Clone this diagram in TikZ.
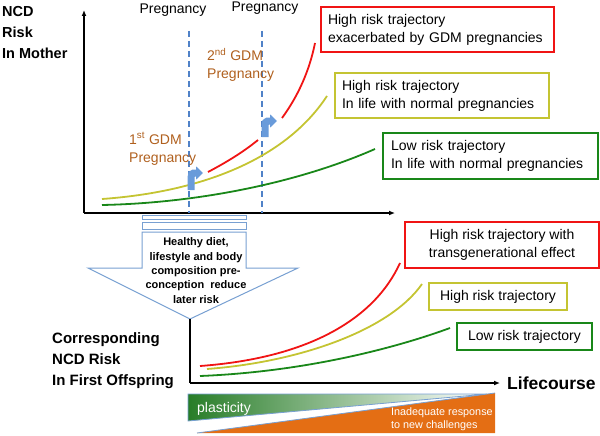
\documentclass[tikz,border=0pt]{standalone}
\usepackage{fontspec}
\setmainfont{Liberation Sans}
\usetikzlibrary{arrows.meta}
\definecolor{rd}{RGB}{240,20,20}
\definecolor{yl}{RGB}{196,196,50}
\definecolor{gn}{RGB}{25,135,25}
\definecolor{brn}{RGB}{176,96,30}
\definecolor{dblue}{RGB}{80,130,200}
\definecolor{abl}{RGB}{120,160,210}
\definecolor{bendblue}{RGB}{105,155,218}
\definecolor{org}{RGB}{228,110,20}
\definecolor{pgreen}{RGB}{40,125,40}
\begin{document}
\begin{tikzpicture}[x=1pt,y=-1pt,
  axisline/.style={line width=1.6, -{Latex[length=6pt,width=5pt]}},
  curve/.style={line width=1.8},
  preg/.style={dblue, line width=1.4, dash pattern=on 6pt off 4pt},
  riskbox/.style={draw=#1, line width=1.5, fill=white, inner xsep=7, inner ysep=0,
    font=\fontsize{14}{18}\selectfont},
  bendarrow/.style={bendblue, line width=7, -{Triangle[length=7pt,width=13pt]}},
  lbl/.style={inner sep=0, font=\fontsize{14}{18}\selectfont},
  bold/.style={inner sep=0, align=left, font=\bfseries\fontsize{14.5}{21}\selectfont},
]
\useasboundingbox (0,0) rectangle (600,436);

% ---------- top panel ----------
\node[bold, anchor=base west] (ncd) at (2,59) {NCD\\Risk\\In Mother};

\coordinate (O1) at (84,213);
\coordinate (Ytop) at (84,10);
\coordinate (Xend) at (395,213);
\draw[axisline] (O1) -- (Ytop);
\draw[axisline] (O1) -- (Xend);

\coordinate (p1t) at (189,31); \coordinate (p1b) at (189,213);
\coordinate (p2t) at (262,31); \coordinate (p2b) at (262,213);
\draw[preg] (p1t) -- (p1b);
\draw[preg] (p2t) -- (p2b);
\node[lbl, anchor=base] (preg1) at (173,14) {Pregnancy};
\node[lbl, anchor=base] (preg2) at (265,12) {Pregnancy};

\node[lbl, anchor=base west, brn, align=left] (gdm1) at (129,162) {1\textsuperscript{st} GDM\\Pregnancy};
\node[lbl, anchor=base west, brn, align=left] (gdm2) at (207,79) {2\textsuperscript{nd} GDM\\Pregnancy};

% curves
\coordinate (g0) at (102,205); \coordinate (g1) at (375,149);
\coordinate (y0) at (102,199); \coordinate (y1) at (327,96);
\coordinate (r0) at (208,172); \coordinate (r1) at (258,140);
\coordinate (r2) at (282,118); \coordinate (r3) at (315,43);
\draw[curve, gn] (g0) .. controls (200,203) and (300,182) .. (g1);
\draw[curve, yl] (y0) .. controls (200,192) and (285,160) .. (y1);
\draw[curve, rd] (r0) .. controls (225,163) and (242,153) .. (r1);
\draw[curve, rd] (r2) .. controls (293,103) and (308,78) .. (r3);

% bent arrows
\coordinate (b1s) at (191,190); \coordinate (b1e) at (203,173);
\coordinate (b2s) at (265,137); \coordinate (b2e) at (277,121);
\draw[bendarrow] (b1s) -- (191,183) .. controls (191,173) .. (b1e);
\draw[bendarrow] (b2s) -- (265,131) .. controls (265,121) .. (b2e);

% boxes top
\node[riskbox=rd, minimum width=233, minimum height=45, text width=219, align=left] (hr1) at (437.5,29.5)
  {High risk trajectory\\exacerbated by GDM pregnancies};
\node[riskbox=yl, minimum width=214, minimum height=45, text width=200, align=left] (hr2) at (442,95.5)
  {High risk trajectory\\In life with normal pregnancies};
\node[riskbox=gn, minimum width=215, minimum height=46, text width=199, inner xsep=8, align=left] (lr1) at (490.5,156)
  {Low risk trajectory\\In life with normal pregnancies};

% ---------- block arrow ----------
\draw[abl, line width=1, fill=white] (142,215) rectangle (246,219);
\draw[abl, line width=1, fill=white] (142,222) rectangle (246,229);
\draw[abl, line width=1, fill=white] (142,232) -- (246,232) -- (246,268) -- (298,268) -- (190,319)
  -- (88,268) -- (142,268) -- cycle;
\node[inner sep=0, anchor=base, align=center, font=\bfseries\fontsize{11}{14.3}\selectfont] (advice) at (196,303)
  {Healthy diet,\\lifestyle and body\\composition pre-\\conception\ \ reduce\\later risk};

% ---------- bottom panel ----------
\node[bold, anchor=base west, font=\bfseries\fontsize{15}{21}\selectfont] (corr) at (52,385)
  {Corresponding\\NCD Risk\\In First Offspring};

\coordinate (O2) at (190,383);
\coordinate (Atip) at (190,319);
\coordinate (X2end) at (500,383);
\draw[line width=1.6] (Atip) -- (O2);
\draw[axisline] (O2) -- (X2end);
\node[inner sep=0, anchor=base west, font=\bfseries\fontsize{17.5}{21}\selectfont] (life) at (507,389) {Lifecourse};

\coordinate (br0) at (200,366); \coordinate (br1) at (400,263);
\coordinate (by0) at (207,369); \coordinate (by1) at (422,284);
\coordinate (bg0) at (200,376); \coordinate (bg1) at (450,328);
\draw[curve, rd] (br0) .. controls (310,358) and (375,318) .. (br1);
\draw[curve, yl] (by0) .. controls (300,362) and (390,330) .. (by1);
\draw[curve, gn] (bg0) .. controls (300,372) and (390,350) .. (bg1);

\node[riskbox=rd, minimum width=194, minimum height=46, align=center] (hr3) at (502,245)
  {High risk trajectory with\\transgenerational effect};
\node[riskbox=yl, minimum width=138, minimum height=27, align=center] (hr4) at (498,296.5)
  {High risk trajectory};
\node[riskbox=gn, minimum width=135, minimum height=27, align=center] (lr2) at (524.5,336.5)
  {Low risk trajectory};

% bands
\coordinate (pa) at (188,394); \coordinate (pb) at (487,394); \coordinate (pc) at (188,421);
\shade[left color=pgreen, middle color=pgreen!45!white, right color=white] (pa) -- (pb) -- (pc) -- cycle;
\draw[abl, line width=0.8] (pa) -- (pb) -- (pc) -- cycle;
\coordinate (oa) at (197,433); \coordinate (ob) at (495,393); \coordinate (oc) at (495,433);
\fill[org] (oa) -- (ob) -- (oc) -- cycle;
\draw[abl, line width=0.8] (oa) -- (ob);
\node[inner sep=0, anchor=base west, white, font=\fontsize{14}{18}\selectfont] (plast) at (197,412) {plasticity};
\node[inner sep=0, anchor=base west, white, align=left, font=\fontsize{10.8}{13}\selectfont] (inad) at (391,428)
  {Inadequate response\\to new challenges};
\end{tikzpicture}
\end{document}
